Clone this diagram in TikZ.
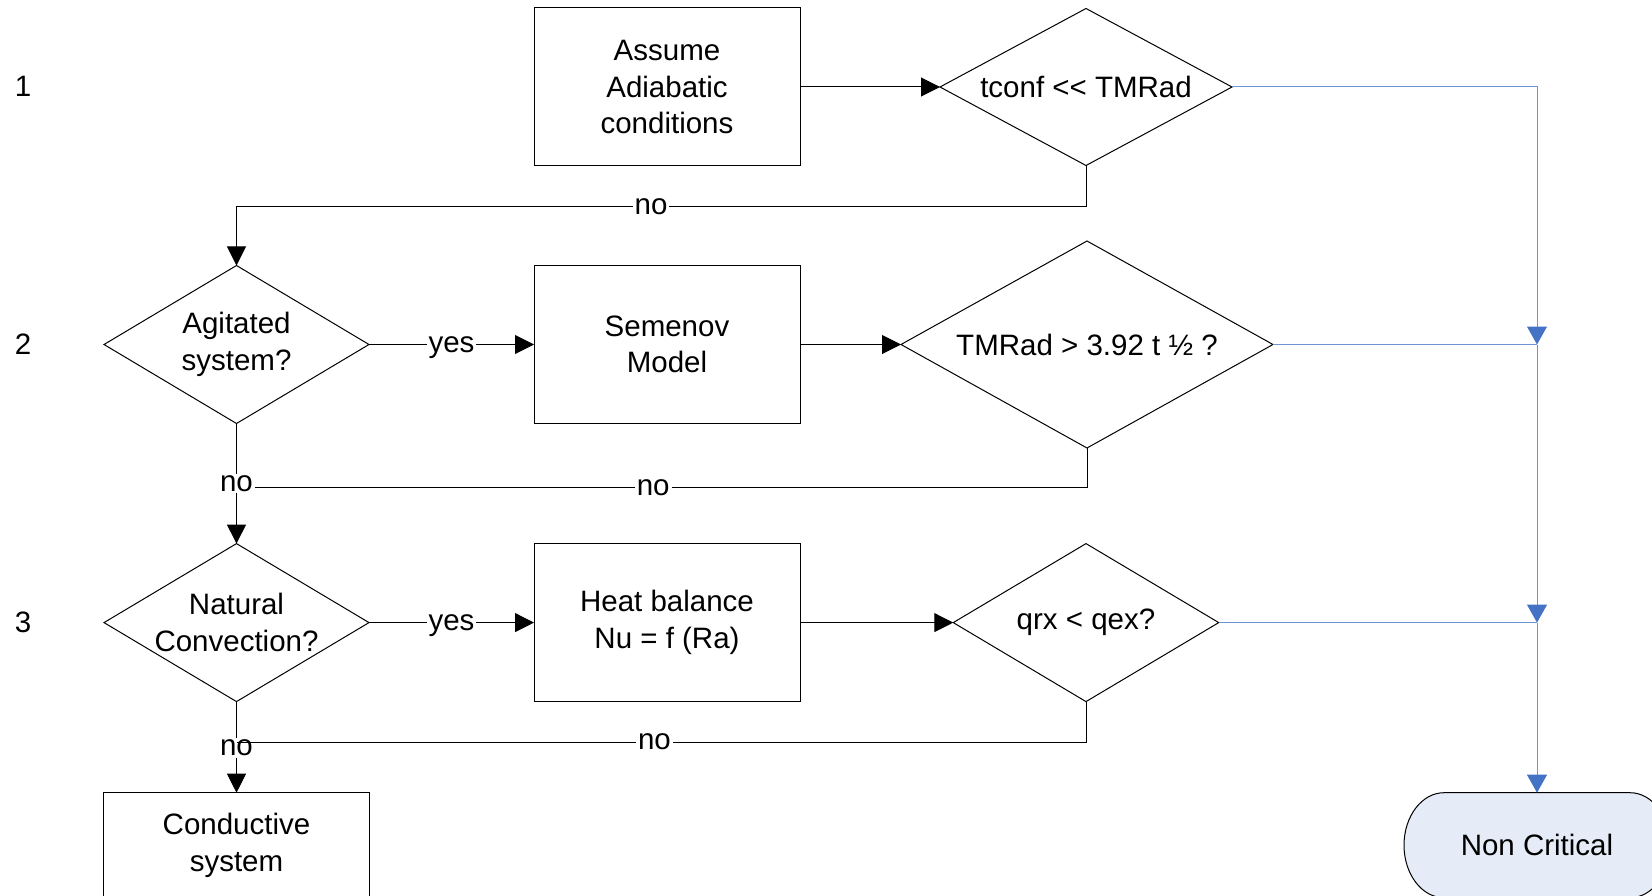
\documentclass[tikz,border=0pt]{standalone}
\usepackage{fontspec}
\setmainfont{Liberation Sans}
\usetikzlibrary{shapes.geometric,arrows.meta}
\definecolor{bline}{RGB}{110,148,212}
\definecolor{bhead}{RGB}{68,114,196}
\definecolor{ncfill}{RGB}{230,236,247}
\begin{document}
\begin{tikzpicture}[x=1pt,y=-1pt,
  txt/.style={font=\fontsize{29.5}{36.5}\selectfont, align=center},
  proc/.style={txt, draw, line width=1pt, minimum width=266pt, minimum height=158pt, inner sep=0pt, outer sep=0pt},
  dec/.style={draw, diamond, line width=1pt, inner sep=0pt, outer sep=0pt},
  dtext/.style={label={[txt]center:#1}},
  lbl/.style={txt, fill=white, inner sep=2pt, text height=15.3pt, text depth=0pt},
  conn/.style={line width=1pt},
  arr/.style={conn, -{Triangle[length=19pt,width=19pt]}},
  bconn/.style={line width=1pt, bline},
  barr/.style={bconn, -{Triangle[length=18pt,width=20pt,fill=bhead,color=bhead]}}
]
\useasboundingbox (0,0) rectangle (1652,896);
\clip (0,0) rectangle (1652,896);

% row labels
\node[txt] (r1) at (23,86) {1};
\node[txt] (r2) at (23,344) {2};
\node[txt] (r3) at (23,622) {3};

% row 1
\node[proc] (b1) at (667,87) {Assume\\Adiabatic\\conditions};
\node[dec, minimum width=292pt, minimum height=157pt, dtext={tconf <{}< TMRad}] (d1) at (1086,87) {};

% row 2
\node[dec, minimum width=265pt, minimum height=158pt, dtext={Agitated\\system?}] (ag) at (236.5,344.5) {};
\node[proc] (sm) at (667,344.5) {Semenov\\Model};
\node[dec, minimum width=372pt, minimum height=207pt, dtext={TMRad > 3.92 t ½ ?}] (d2) at (1087,344.5) {};

% row 3
\node[dec, minimum width=265pt, minimum height=158pt, dtext={Natural\\Convection?}] (nat) at (236.5,622.6) {};
\node[proc] (hb) at (667,622.6) {Heat balance\\Nu = f (Ra)};
\node[dec, minimum width=265.5pt, minimum height=158pt, dtext={qrx < qex?}] (d3) at (1086,622.6) {};

% bottom
\node[proc, minimum height=105pt] (cs) at (236.5,845.2) {Conductive\\system};
\filldraw[fill=ncfill, draw=black, line width=1pt]
  (1444,792.7) -- (1630,792.7)
  arc[start angle=90, end angle=-90, x radius=40pt, y radius=52.5pt]
  -- (1444,897.7)
  arc[start angle=270, end angle=90, x radius=40pt, y radius=52.5pt] -- cycle;
\node[txt, minimum width=266pt, minimum height=105pt, inner sep=0pt, outer sep=0pt] (nc) at (1537,845.2) {Non Critical};

% junction coordinates
\coordinate (k1) at (236.5,207);
\coordinate (k2) at (236.5,487.7);
\coordinate (k3) at (236.5,742.3);
\coordinate (j2) at (1537,344.5);
\coordinate (j3) at (1537,622.6);

% black connectors
\draw[arr] (b1.east) -- (d1.west);
\draw[arr] (d1.south) |- node[lbl, pos=0.756] (n1) {no} (k1) -- (ag.north);
\draw[arr] (ag.east) -- node[lbl] (y1) {yes} (sm.west);
\draw[arr] (sm.east) -- (d2.west);
\draw[conn] (d2.south) |- node[lbl, pos=0.755] (n2) {no} (k2);
\draw[arr] (ag.south) -- node[lbl, pos=0.5] (n3) {no} (nat.north);
\draw[arr] (nat.east) -- node[lbl] (y2) {yes} (hb.west);
\draw[arr] (hb.east) -- (d3.west);
\draw[arr] (nat.south) -- node[lbl, pos=0.51] (n5) {no} (cs.north);
\draw[conn] (d3.south) |- node[lbl, pos=0.754] (n4) {no} (k3);

% blue connectors
\draw[barr] (d1.east) -| (j2);
\draw[bconn] (d2.east) -- (j2);
\draw[barr] (j2) -- (j3);
\draw[bconn] (d3.east) -- (j3);
\draw[barr] (j3) -- (nc.north);
\end{tikzpicture}
\end{document}
